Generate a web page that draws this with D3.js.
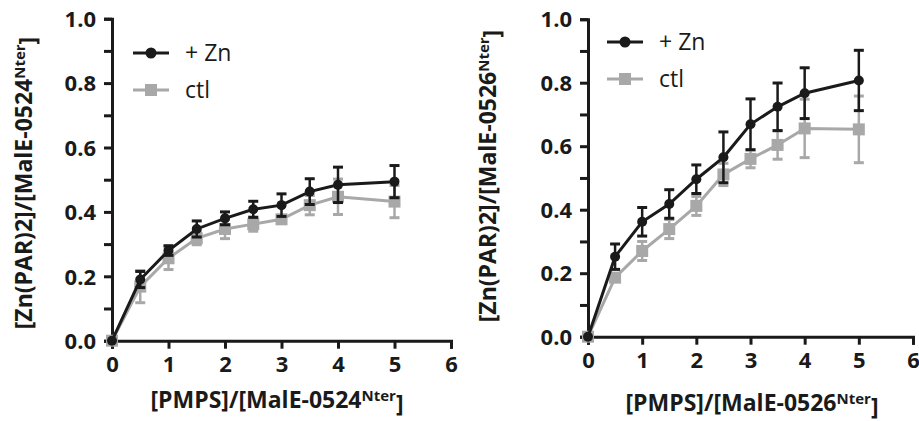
<!DOCTYPE html>
<html><head><meta charset="utf-8">
<script src="https://cdn.jsdelivr.net/npm/d3@7"></script>
<style>body{margin:0;background:#fff}svg{display:block}text{font-family:"Open Sans",sans-serif;font-weight:700;fill:#1a1a1a}</style>
</head><body><svg id="c" width="919" height="421"></svg>
<script>
const xVals = [0, 0.5, 1, 1.5, 2, 2.5, 3, 3.5, 4, 5];
const leftZn = [0, 0.19, 0.28, 0.347, 0.38, 0.408, 0.421, 0.463, 0.484, 0.494];
const leftZnErr = [0, 0.025, 0.015, 0.025, 0.02, 0.025, 0.035, 0.04, 0.055, 0.05];
const leftCtl = [0, 0.168, 0.256, 0.318, 0.347, 0.362, 0.377, 0.421, 0.447, 0.432];
const leftCtlErr = [0, 0.05, 0.035, 0.02, 0.03, 0.022, 0.012, 0.03, 0.055, 0.05];
const rightZn = [0, 0.252, 0.362, 0.418, 0.496, 0.565, 0.669, 0.724, 0.767, 0.807];
const rightZnErr = [0, 0.04, 0.045, 0.045, 0.045, 0.08, 0.08, 0.075, 0.08, 0.095];
const rightCtl = [0, 0.186, 0.27, 0.339, 0.412, 0.511, 0.56, 0.604, 0.656, 0.653];
const rightCtlErr = [0, 0.012, 0.03, 0.03, 0.03, 0.035, 0.028, 0.045, 0.092, 0.105];
const xTicks = [0, 1, 2, 3, 4, 5, 6];
const yTicks = [0, 0.2, 0.4, 0.6, 0.8, 1.0];
const yMinor = [0.1, 0.3, 0.5, 0.7, 0.9];
const seriesNames = ["+ Zn", "ctl"];
const colors = ["#1a1a1a", "#a8a8a8"];

const svg = d3.select("#c");

function panel(o) {
  const x = d3.scaleLinear().domain([0, 6]).range([o.x0, o.x1]);
  const y = d3.scaleLinear().domain([0, 1]).range([o.y0, o.y1]);
  const g = svg.append("g");
  const yAx = g.append("g").attr("transform", `translate(${o.x0},0)`)
    .call(d3.axisLeft(y).tickValues(yTicks).tickSize(8).tickPadding(8).tickFormat(d3.format(".1f")));
  g.append("g").attr("transform", `translate(${o.x0},0)`)
    .call(d3.axisLeft(y).tickValues(yMinor).tickSize(8).tickFormat(""))
    .select(".domain").remove();
  const xAx = g.append("g").attr("transform", `translate(0,${o.y0})`)
    .call(d3.axisBottom(x).tickValues(xTicks).tickSize(8).tickPadding(5).tickFormat(d3.format("d")));
  g.selectAll(".domain").attr("stroke", "#1a1a1a").attr("stroke-width", 3);
  g.selectAll(".tick line").attr("stroke", "#1a1a1a").attr("stroke-width", 3);
  g.selectAll(".tick text").style("font-size", "22px").style("font-family", '"Open Sans",sans-serif').style("font-weight", 700).attr("fill", "#1a1a1a");
  xAx.selectAll(".tick text").attr("dy", "0.85em");
  yAx.selectAll(".tick text").attr("dy", "0.35em");

  const sets = [
    {v: o.ctl, e: o.ctlE, c: colors[1], sq: true},
    {v: o.zn, e: o.znE, c: colors[0], sq: false}
  ];
  sets.forEach(s => {
    const pts = xVals.map((xv, i) => ({x: xv, y: s.v[i], e: s.e[i]}));
    g.append("path").datum(pts)
      .attr("d", d3.line().x(d => x(d.x)).y(d => y(d.y)))
      .attr("fill", "none").attr("stroke", s.c).attr("stroke-width", 3);
    const eb = g.append("g");
    pts.filter(d => d.e > 0).forEach(d => {
      eb.append("line").attr("x1", x(d.x)).attr("x2", x(d.x)).attr("y1", y(d.y - d.e)).attr("y2", y(d.y + d.e))
        .attr("stroke", s.c).attr("stroke-width", 2.5);
      [d.y - d.e, d.y + d.e].forEach(v => {
        eb.append("line").attr("x1", x(d.x) - 5).attr("x2", x(d.x) + 5).attr("y1", y(v)).attr("y2", y(v))
          .attr("stroke", s.c).attr("stroke-width", 3);
      });
    });
    if (s.sq) {
      g.selectAll(null).data(pts).enter().append("rect")
        .attr("x", d => x(d.x) - 6).attr("y", d => y(d.y) - 6).attr("width", 12).attr("height", 12).attr("fill", s.c);
    } else {
      g.selectAll(null).data(pts).enter().append("circle")
        .attr("cx", d => x(d.x)).attr("cy", d => y(d.y)).attr("r", 5).attr("fill", s.c);
    }
  });

  const lg = g.append("g");
  [0, 1].forEach(i => {
    const ly = o.ly + i * 37;
    lg.append("line").attr("x1", o.lx).attr("x2", o.lx + 36).attr("y1", ly).attr("y2", ly)
      .attr("stroke", colors[i]).attr("stroke-width", 3);
    if (i === 0) lg.append("circle").attr("cx", o.lx + 18).attr("cy", ly).attr("r", 5.5).attr("fill", colors[0]);
    else lg.append("rect").attr("x", o.lx + 12).attr("y", ly - 6).attr("width", 12).attr("height", 12).attr("fill", colors[1]);
    lg.append("text").attr("x", o.lx + 52).attr("y", ly).attr("dy", "0.35em")
      .style("font-size", "23px").style("font-weight", 400).text(seriesNames[i]);
  });

  const xt = g.append("text").attr("x", o.xtx).attr("y", o.xty).attr("text-anchor", "middle").style("font-size", "23px");
  xt.append("tspan").text(`[PMPS]/[MalE-${o.id}`);
  xt.append("tspan").attr("dy", "-0.45em").style("font-size", "15px").text("Nter");
  xt.append("tspan").attr("dy", "0.45em").text("]");

  const yt = g.append("text").attr("transform", `translate(${o.ytx},${o.yty}) rotate(-90)`).attr("text-anchor", "middle").style("font-size", "23px");
  yt.append("tspan").text(`[Zn(PAR)2]/[MalE-${o.id}`);
  yt.append("tspan").attr("dy", "-0.45em").style("font-size", "15px").text("Nter");
  yt.append("tspan").attr("dy", "0.45em").text("]");
}

panel({id: "0524", x0: 112, x1: 451, y0: 340.7, y1: 18.7, zn: leftZn, znE: leftZnErr, ctl: leftCtl, ctlE: leftCtlErr,
  lx: 133, ly: 53, xtx: 277, xty: 408, ytx: 32, yty: 183});
panel({id: "0526", x0: 588, x1: 913, y0: 336.7, y1: 19.2, zn: rightZn, znE: rightZnErr, ctl: rightCtl, ctlE: rightCtlErr,
  lx: 607, ly: 42, xtx: 752, xty: 411, ytx: 496, yty: 176});
</script></body></html>
